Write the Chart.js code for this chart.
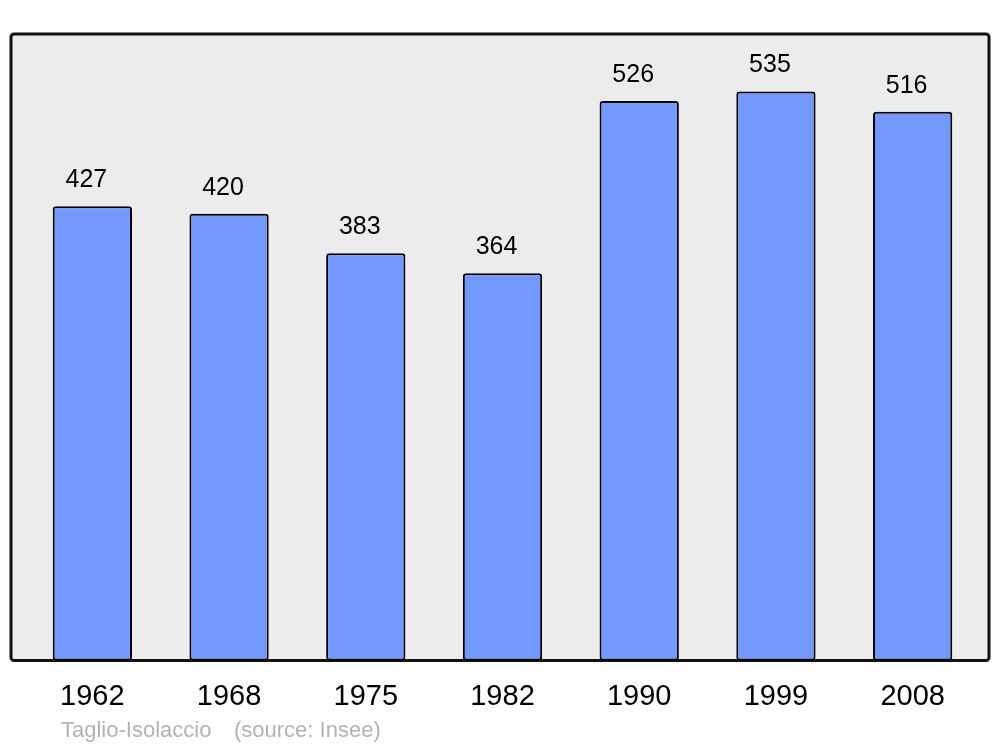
<!DOCTYPE html>
<html>
<head>
<meta charset="utf-8">
<script src="https://cdn.jsdelivr.net/npm/chart.js@4/dist/chart.umd.min.js"></script>
<style>
  html, body { margin: 0; padding: 0; background: #fff; }
  #wrap { width: 1000px; height: 747px; }
</style>
</head>
<body>
<div id="wrap"><canvas id="popChart" width="1000" height="747"></canvas></div>
<script>
const years = ["1962", "1968", "1975", "1982", "1990", "1999", "2008"];
const population = [427, 420, 383, 364, 526, 535, 516];
const commune = "Taglio-Isolaccio";
const source = "(source: Insee)";

Chart.defaults.font.family = "'Liberation Sans', Arial, sans-serif";
Chart.defaults.color = "#000";

// grey box behind the bars
const framePlugin = {
  id: "frame",
  beforeDatasetsDraw(chart) {
    const ctx = chart.ctx, a = chart.chartArea;
    ctx.save();
    ctx.beginPath();
    ctx.roundRect(a.left - 13, a.top, (a.right + 8) - (a.left - 13), a.bottom - a.top, 3);
    ctx.fillStyle = "#ececec";
    ctx.fill();
    ctx.lineWidth = 3;
    ctx.strokeStyle = "#111";
    ctx.stroke();
    ctx.restore();
  },
  afterDatasetsDraw(chart) {
    const ctx = chart.ctx;
    const meta = chart.getDatasetMeta(0);
    ctx.save();
    ctx.font = "25px 'Liberation Sans', Arial, sans-serif";
    ctx.fillStyle = "#000";
    ctx.textAlign = "center";
    ctx.textBaseline = "alphabetic";
    meta.data.forEach((bar, i) => {
      ctx.fillText(population[i], bar.x - 6, bar.y - 19);
    });
    // caption under the axis
    ctx.font = "22px 'Liberation Sans', Arial, sans-serif";
    ctx.fillStyle = "#b3b3b3";
    ctx.textAlign = "left";
    ctx.fillText(commune, 61, 737);
    ctx.fillText(source, 234, 737);
    ctx.restore();
  }
};

new Chart("popChart", {
  type: "bar",
  data: {
    labels: years,
    datasets: [{
      data: population,
      backgroundColor: "#7399ff",
      borderColor: "#000",
      borderWidth: 2,
      borderRadius: 3,
      borderSkipped: false,
      categoryPercentage: 1,
      barPercentage: 0.58
    }]
  },
  options: {
    responsive: false,
    animation: false,
    layout: { padding: { left: 24, right: 19, top: 34, bottom: 13.6 } },
    plugins: {
      legend: { display: false },
      tooltip: { enabled: false }
    },
    scales: {
      x: {
        grid: { display: false, drawTicks: false },
        border: { display: false },
        ticks: { font: { size: 29 }, padding: 19, color: "#000" }
      },
      y: {
        display: false,
        min: 0,
        max: 589
      }
    }
  },
  plugins: [framePlugin]
});
</script>
</body>
</html>
